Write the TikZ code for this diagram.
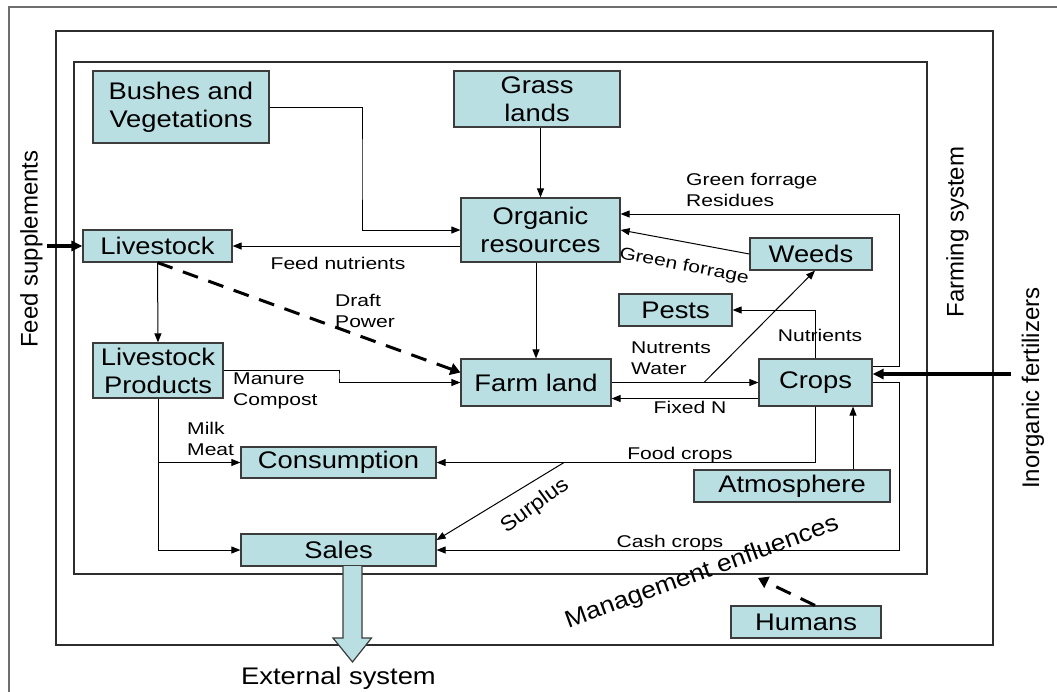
\documentclass[tikz,border=0pt]{standalone}
\usepackage{fontspec}
\setmainfont{Liberation Sans}[FakeStretch=1.14]
\newfontfamily\labfont{Liberation Sans}[FakeStretch=1.24]
\newfontfamily\rotfont{Liberation Sans}
\newfontfamily\midfont{Liberation Sans}[FakeStretch=1.1]
\usetikzlibrary{arrows.meta,calc}
\definecolor{boxblue}{RGB}{185,223,227}
\definecolor{boxline}{RGB}{60,60,60}
\definecolor{frameline}{RGB}{45,45,45}
\definecolor{outerline}{RGB}{110,110,110}
\begin{document}
\begin{tikzpicture}[x=1pt,y=-1pt,
 box/.style={draw=boxline, fill=boxblue, line width=1.2pt, inner sep=0pt, align=center, font=\fontsize{24}{28}\selectfont},
 lab/.style={inner sep=0pt, align=left, font=\labfont\fontsize{17}{21.5}\selectfont},
 rot/.style={inner sep=0pt, font=\rotfont\fontsize{24}{28}\selectfont},
 arr/.style={line width=1pt, -{Triangle[length=9pt,width=7pt]}},
 bigarr/.style={line width=3.2pt, -{Triangle[length=11pt,width=10pt]}},
 dasharr/.style={line width=3pt, dash pattern=on 16pt off 11pt, -{Triangle[length=10pt,width=12pt]}},
 frame/.style={line width=1.3pt, draw=frameline}]
\path[use as bounding box] (0,0) rectangle (1057,691);
\clip (0,0) rectangle (1057,691);
\fill[white] (0,0) rectangle (1057,691);
% frames
\draw[line width=1.3pt, draw=outerline] (9,7) rectangle (1100,760);
\draw[frame] (56,31) rectangle (993,645);
\draw[frame] (74,62) rectangle (927,574);
% boxes
\node[box, minimum width=176pt, minimum height=72pt] (bushes) at (181,107) {Bushes and\\Vegetations};
\node[box, minimum width=166pt, minimum height=56pt] (grass) at (537,99) {Grass\\lands};
\node[box, minimum width=159pt, minimum height=64pt] (organic) at (540.5,230) {Organic\\resources};
\node[box, minimum width=149pt, minimum height=32pt] (livestock) at (157.5,246) {Livestock};
\node[box, minimum width=130pt, minimum height=55pt] (lp) at (158,370.5) {Livestock\\Products};
\node[box, minimum width=150pt, minimum height=47pt] (farm) at (536,382.5) {Farm land};
\node[box, minimum width=122pt, minimum height=32pt] (weeds) at (811,254) {Weeds};
\node[box, minimum width=113pt, minimum height=32pt] (pests) at (675.5,310) {Pests};
\node[box, minimum width=113pt, minimum height=47pt] (crops) at (815.5,382.5) {Crops};
\node[box, minimum width=195pt, minimum height=31pt] (consumption) at (338.5,462.5) {Consumption};
\node[box, minimum width=195pt, minimum height=32pt] (sales) at (338.5,550) {Sales};
\node[box, minimum width=196pt, minimum height=32pt] (atmos) at (792,486) {Atmosphere};
\node[box, minimum width=150pt, minimum height=32pt] (humans) at (806,622) {Humans};
% helper coordinates
\coordinate (b1) at (362,170);
\coordinate (fs) at (47,246);
\coordinate (m1) at (339,376);
\coordinate (w0) at (704,382.5);
\coordinate (r1) at (899,300);
\coordinate (r2) at (899,450);
\coordinate (inf) at (1011,374);
\coordinate (s0) at (564,462.5);
\coordinate (mg) at (758,578);
% connectors
\draw[arr] (bushes.east) -| (b1) |- (organic.west);
\draw[arr] (organic.north |- grass.south) -- (organic.north);
\draw[arr] (organic.west |- livestock.east) -- (livestock.east);
\draw[bigarr] (fs) -- (livestock.west);
\draw[arr] (livestock.south) -- (lp.north);
\draw[dasharr] (livestock.south) -- ($(farm.west)+(0,-10)$);
\draw[arr] (lp.east) -| (m1) |- (farm.west);
\draw[arr] (lp.south) |- (sales.west);
\draw[arr] (lp.south |- consumption.west) -- (consumption.west);
\draw[arr] (farm.north |- organic.south) -- (farm.north);
\draw[arr] (farm.east) -- (crops.west);
\draw[arr] ($(crops.west)+(0,16)$) -- ($(farm.east)+(0,16)$);
\draw[arr] (w0) -- ($(weeds.south)+(4,0)$);
\draw[arr] (crops.north) |- (pests.east);
\draw[arr] (weeds.west) -- (organic.east);
\draw[arr] ($(crops.east)+(0,-16)$) -| (r1) |- ($(organic.east)+(0,-16)$);
\draw[bigarr] (inf) -- ($(crops.east)+(0,-8.5)$);
\draw[arr] (crops.south) |- (consumption.east);
\draw[arr] (s0) -- ($(sales.east)+(0,-10)$);
\draw[arr] ($(atmos.north)+(61,0)$) -- ($(crops.south)+(37.5,0)$);
\draw[arr] (crops.east) -| (r2) |- (sales.east);
\draw[dasharr] ($(humans.north)+(9,0)$) -- (mg);
% block arrow to external system
\coordinate (ex) at (352.5,566);
\draw[draw=boxline, fill=boxblue, line width=1.2pt]
  ($(ex)+(-9.5,0)$) -- ($(ex)+(-9.5,72)$) -- ($(ex)+(-19.5,72)$) -- ($(ex)+(0,96)$)
  -- ($(ex)+(19,72)$) -- ($(ex)+(9.5,72)$) -- ($(ex)+(9.5,0)$);
% labels
\node[lab] (l1) at (338,263) {Feed nutrients};
\node[lab, anchor=west] (l2) at (335,311) {Draft\\Power};
\node[lab, anchor=west] (l3) at (233,391) {Manure\\Compost};
\node[lab, anchor=west] (l4) at (187,439) {Milk\\Meat};
\node[lab, anchor=west] (l5) at (631,358) {Nutrents\\Water};
\node[lab] (l6) at (690,407) {Fixed N};
\node[lab] (l7) at (820,335) {Nutrients};
\node[lab, anchor=west] (l8) at (686,190) {Green forrage\\Residues};
\node[lab, rotate=-11] (l9) at (684,266.5) {Green forrage};
\node[lab] (l10) at (680,455) {Food crops};
\node[lab] (l11) at (670,543) {Cash crops};
\node[inner sep=0pt, rotate=36, font=\midfont\fontsize{21}{24}\selectfont] (l12) at (535,506) {Surplus};
\node[inner sep=0pt, rotate=20, font=\midfont\fontsize{24}{28}\selectfont] (l13) at (702,573) {Management enfluences};
\node[rot, rotate=90] (l14) at (31.5,249) {Feed supplements};
\node[rot, rotate=90] (l15) at (957.5,232) {Farming system};
\node[rot, rotate=90] (l16) at (1033,388) {Inorganic fertilizers};
\node[inner sep=0pt, font=\fontsize{24}{28}\selectfont] (l17) at (338.5,678) {External system};
\end{tikzpicture}
\end{document}
